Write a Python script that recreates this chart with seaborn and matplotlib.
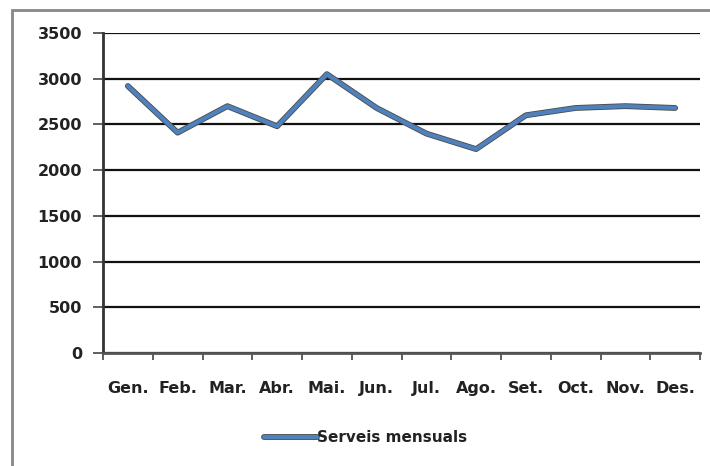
import matplotlib
matplotlib.use("Agg")
import matplotlib.pyplot as plt
import matplotlib.patheffects as pe
from matplotlib.patches import Rectangle
import numpy as np
import pandas as pd
import seaborn as sns

# data
mesos = ["Gen.", "Feb.", "Mar.", "Abr.", "Mai.", "Jun.",
         "Jul.", "Ago.", "Set.", "Oct.", "Nov.", "Des."]
serveis = [2920, 2410, 2700, 2480, 3050, 2680,
           2400, 2230, 2600, 2680, 2700, 2680]
serie = "Serveis mensuals"
y_ticks = [0, 500, 1000, 1500, 2000, 2500, 3000, 3500]

df = pd.DataFrame({"mes": mesos, "valor": serveis, "serie": serie})

sns.set_style("white")
plt.rcParams["font.family"] = ["DejaVu Sans"]

fig = plt.figure(figsize=(7.10, 4.66), dpi=100)
ax = fig.add_axes([103 / 710, 1 - 353 / 466, 597 / 710, 320 / 466])

outline = [pe.Stroke(linewidth=4.2, foreground="#4a4a4a"), pe.Normal()]
sns.lineplot(data=df, x="mes", y="valor", hue="serie", palette=["#4F81BD"],
             sort=False, linewidth=3, ax=ax, legend=True)
ax.lines[0].set_path_effects(outline)

ax.set_xlim(-0.5, len(mesos) - 0.5)
ax.set_ylim(0, 3500)
ax.set_yticks(y_ticks)
ax.set_yticklabels([str(v) for v in y_ticks], fontsize=11.5, fontweight="bold",
                   color="#222222")
ax.set_xticks(range(len(mesos)))
ax.set_xticklabels(mesos, fontsize=11.5, fontweight="bold", color="#222222")
ax.set_xticks(np.arange(-0.5, len(mesos)), minor=True)
ax.tick_params(axis="x", which="major", length=0, pad=20)
ax.tick_params(axis="x", which="minor", length=5, width=1.2, color="#444444",
               direction="out", bottom=True)
ax.tick_params(axis="y", length=7, width=1.2, color="#444444",
               direction="out", left=True, pad=8)
ax.set_xlabel("")
ax.set_ylabel("")

for v in y_ticks:
    ax.axhline(v, color="#111111", linewidth=1.6, zorder=0)

for side in ["top", "right"]:
    ax.spines[side].set_visible(False)
ax.spines["left"].set_color("#333333")
ax.spines["left"].set_linewidth(2)
ax.spines["bottom"].set_color("#555555")
ax.spines["bottom"].set_linewidth(2)

leg = ax.legend(loc="center", bbox_to_anchor=(0.44, -0.265), frameon=False,
                prop={"size": 11, "weight": "bold"}, handlelength=3.5,
                handletextpad=0.0)
for t in leg.get_texts():
    t.set_color("#222222")
for h in leg.get_lines():
    h.set_linewidth(3)
    h.set_path_effects(outline)

# grey outer frame of the chart object
fig.add_artist(Rectangle((12 / 710, -0.05), 1.0, 1 - 10 / 466 + 0.05,
                         transform=fig.transFigure, fill=False,
                         edgecolor="#888888", linewidth=2))

fig.savefig("out.png", dpi=100)
